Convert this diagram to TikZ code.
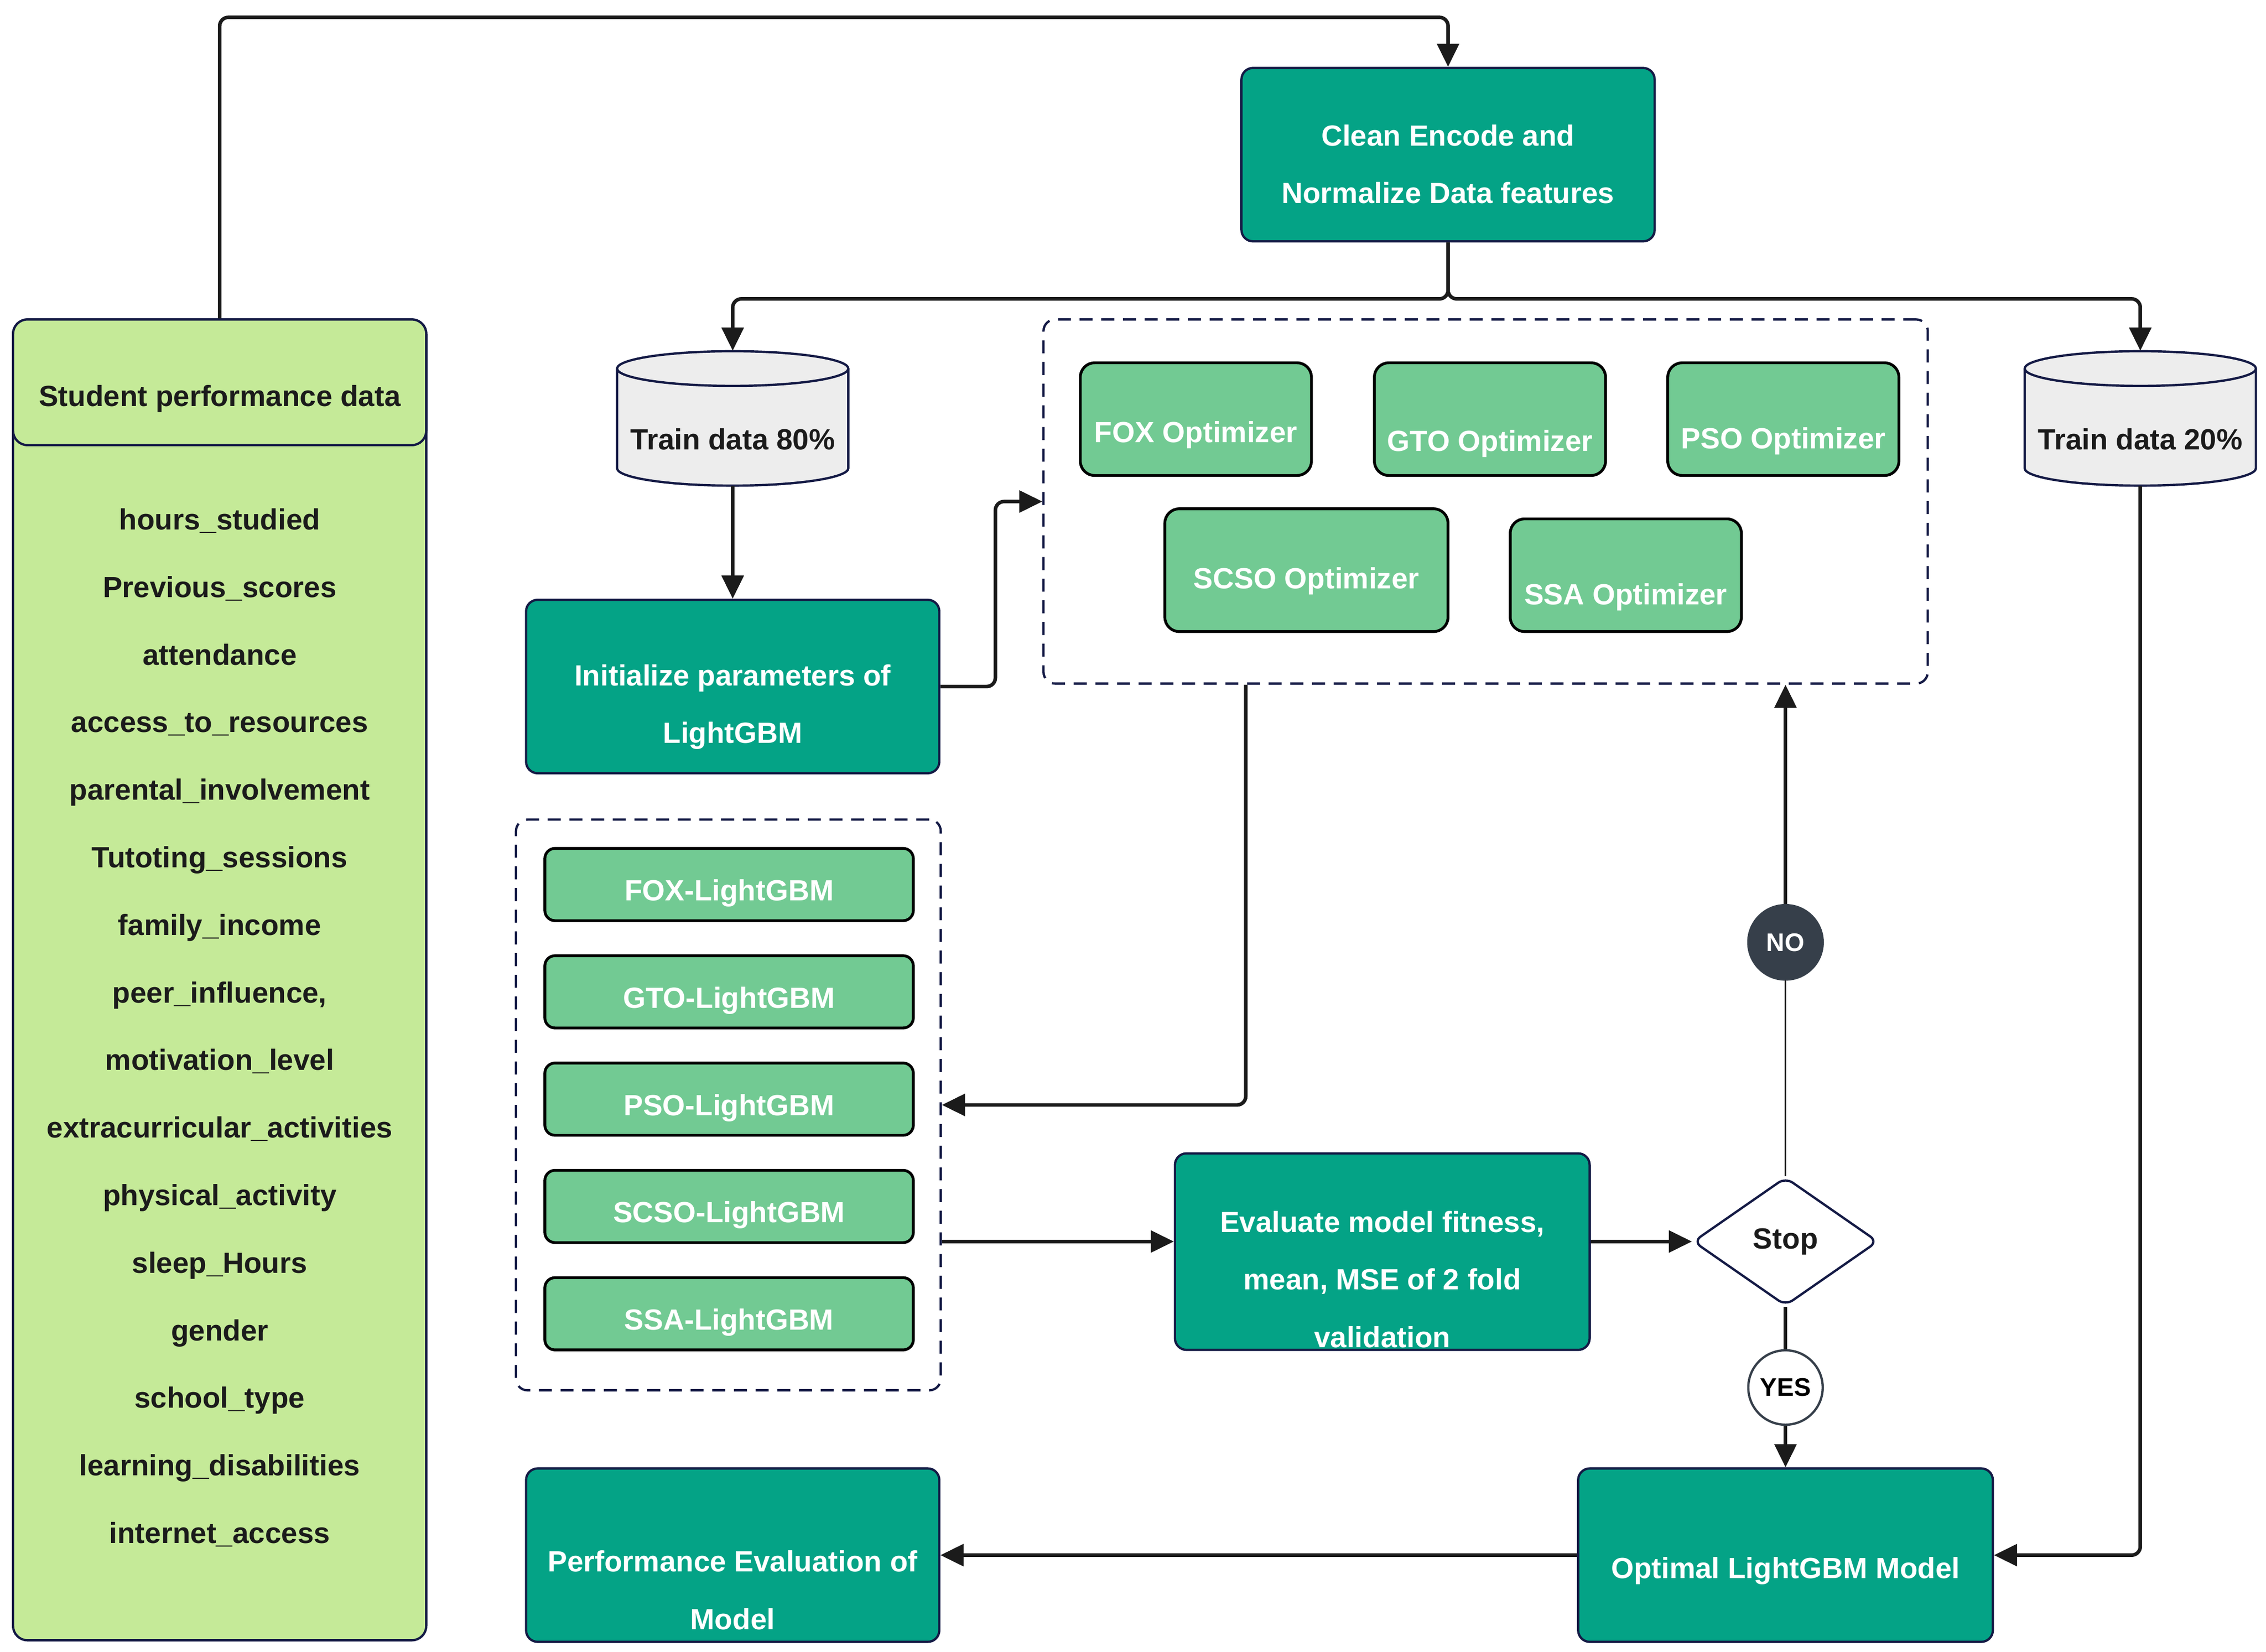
\documentclass[tikz,border=0pt]{standalone}
\usepackage{fontspec}
\setmainfont{Liberation Sans}
\usetikzlibrary{arrows.meta, shapes.geometric, positioning}
\definecolor{tealbox}{HTML}{04A386}
\definecolor{leaf}{HTML}{C5EA98}
\definecolor{mint}{HTML}{72CA93}
\definecolor{navy}{HTML}{141A45}
\definecolor{ink}{HTML}{1B1B1B}
\definecolor{slate}{HTML}{363F4A}
\definecolor{tankgray}{HTML}{EDEDED}
\newcommand{\tank}[3]{%
\draw[tankline, shift={(#2)}] (-80,-34.5) -- (-80,34.5) arc[start angle=180, end angle=0, x radius=80, y radius=12] -- (80,-34.5) arc[start angle=0, end angle=-180, x radius=80, y radius=12] -- cycle;
\draw[tankline, fill=none, shift={(#2)}] (-80,-34.5) arc[start angle=180, end angle=0, x radius=80, y radius=12];
\node[tank] (#1) at (#2) {#3};}
\tikzset{
txt/.style={font=\fontsize{11.5}{22.7}\selectfont\bfseries, text=ink},
proc/.style={txt, draw=navy, line width=0.9pt, fill=tealbox, text=white, rounded corners=0.16cm, minimum width=5.72cm, minimum height=2.4cm, align=center, inner sep=0pt, text depth=0cm},
opt/.style={txt, draw=black, line width=1.1pt, fill=mint, text=white, rounded corners=0.2cm, minimum width=3.2cm, minimum height=1.56cm, inner sep=0pt, text depth=0cm},
gbm/.style={opt, minimum width=5.1cm, minimum height=1cm, rounded corners=0.14cm, text height=0.45cm},
cluster/.style={draw=navy, line width=0.9pt, dash pattern=on 0.18cm off 0.12cm, rounded corners=0.16cm, inner sep=0pt},
link/.style={draw=ink, line width=1.4pt, rounded corners=0.12cm},
flow/.style={link, -{Triangle[length=0.32cm,width=0.3cm]}},
tank/.style={txt, minimum width=3.2cm, minimum height=1.86cm, text height=0.87cm, text depth=0cm, inner sep=0pt},
tankline/.style={draw=navy, line width=0.9pt, fill=tankgray},
feat/.style={txt, text height=0.3cm, text depth=0cm, inner sep=0pt},
tag/.style={circle, font=\fontsize{10}{12}\selectfont\bfseries, minimum size=1.03cm, inner sep=0pt, line width=0.9pt}
}
\begin{document}
\begin{tikzpicture}[x=0.02cm, y=-0.02cm]
\useasboundingbox (0,0) rectangle (1568,1143);
\node[draw=navy, line width=0.9pt, fill=leaf, rounded corners=0.2cm, minimum width=5.72cm, minimum height=18.28cm, inner sep=0pt] (data) at (152,678) {};
\node[txt, draw=navy, line width=0.9pt, fill=leaf, rounded corners=0.2cm, minimum width=5.72cm, minimum height=1.74cm, inner sep=0pt, text height=0.67cm, text depth=0cm] (datahead) at (152,264.5) {Student performance data};
\foreach \f [count=\i] in {hours\_studied, Previous\_scores, attendance, access\_to\_resources, parental\_involvement, Tutoting\_sessions, family\_income, {peer\_influence,}, motivation\_level, extracurricular\_activities, physical\_activity, sleep\_Hours, gender, school\_type, learning\_disabilities, internet\_access}
  \node[feat] (f\i) at (152,{359+46.75*(\i-1)}) {\f};
\node[proc, text height=1.352cm] (clean) at (1002,107) {Clean Encode and\\Normalize Data features};
\tank{cyl80}{507,289.5}{Train data 80\%}
\tank{cyl20}{1481,289.5}{Train data 20\%}
\node[proc, text height=1.572cm] (init) at (507,475) {Initialize parameters of\\LightGBM};
\node[cluster, minimum width=12.24cm, minimum height=5.04cm] (optbox) at (1028,347) {};
\node[opt, text height=0.65cm] (fox) at (827.5,290) {FOX Optimizer};
\node[opt, text height=0.89cm] (gto) at (1031,290) {GTO Optimizer};
\node[opt, text height=0.81cm] (pso) at (1234,290) {PSO Optimizer};
\node[opt, minimum width=3.92cm, minimum height=1.7cm, text height=0.51cm] (scso) at (904,394.5) {SCSO Optimizer};
\node[opt, text height=0.81cm] (ssa) at (1125,398) {SSA Optimizer};
\node[cluster, minimum width=5.88cm, minimum height=7.9cm] (gbmbox) at (504,764.5) {};
\foreach \m [count=\i] in {FOX, GTO, PSO, SCSO, SSA}
  \node[gbm] (gbm\i) at (504.5,{612+74.25*(\i-1)}) {\m-LightGBM};
\node[proc, minimum width=5.74cm, minimum height=2.72cm, text height=2.652cm] (eval) at (956.5,866) {Evaluate model fitness,\\mean, MSE of 2 fold\\validation};
\node[txt, diamond, draw=navy, line width=0.9pt, fill=white, minimum width=2.56cm, minimum height=1.78cm, aspect=1.44, rounded corners=0.12cm, inner sep=0pt] (stop) at (1235.5,859) {Stop};
\node[tag, draw=slate, fill=slate, text=white] (no) at (1235.5,652) {NO};
\node[tag, draw=slate, fill=white, text=black] (yes) at (1235.5,960) {YES};
\node[proc, minimum width=5.74cm, text height=0.65cm] (optimal) at (1235.5,1076) {Optimal LightGBM Model};
\node[proc, text height=2.052cm] (perf) at (507,1076) {Performance Evaluation of\\Model};
\coordinate (top) at (1002,12);
\draw[flow] (data.north) |- (top) -- (clean.north);
\draw[flow] (clean.south) -- ++(0,39) -| (cyl80.north);
\draw[flow] (clean.south) -- ++(0,39) -| (cyl20.north);
\draw[flow] (cyl80.south) -- (init.north);
\draw[flow] (init.east) -- ++(38,0) |- (optbox.west);
\draw[flow] ([xshift=-3.32cm]optbox.south) |- (gbmbox.east);
\draw[flow] (gbmbox.east |- stop.west) -- (eval.west |- stop.west);
\draw[flow] (eval.east |- stop.west) -- (stop.west);
\draw[ink, line width=0.7pt] (stop.north) -- (no.south);
\draw[flow] (no.north) -- (no.north |- optbox.south);
\draw[link] (stop.south) -- (yes.north);
\draw[flow] (yes.south) -- (optimal.north);
\draw[flow] (cyl20.south) |- (optimal.east);
\draw[flow] (optimal.west) -- (perf.east);
\end{tikzpicture}
\end{document}
